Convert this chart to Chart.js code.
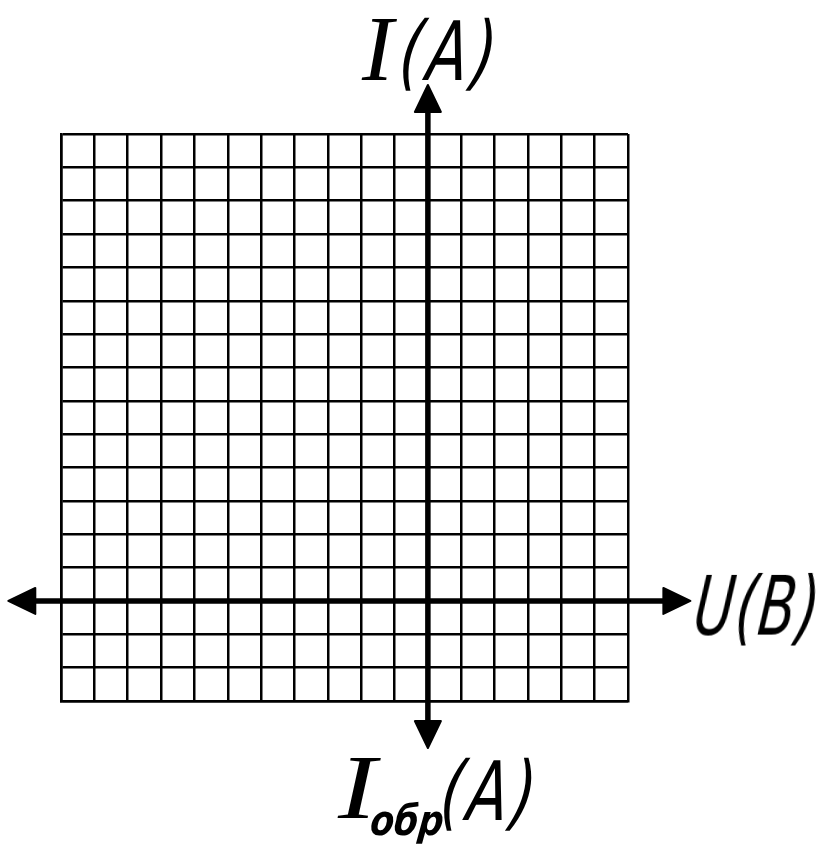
<!DOCTYPE html>
<html><head><meta charset="utf-8">
<script src="https://cdn.jsdelivr.net/npm/chart.js@4"></script>
<style>
html,body{margin:0;padding:0;background:#fff;}
#wrap{position:relative;width:825px;height:845px;overflow:hidden;}
canvas{position:absolute;left:0;top:0;}
.lbl{position:absolute;line-height:1;white-space:nowrap;color:#000;transform-origin:0 0;}
.serif{font-family:"Liberation Serif","DejaVu Serif",serif;font-style:italic;}
.gost{font-family:"DejaVu Sans Condensed","DejaVu Sans",sans-serif;font-style:italic;font-weight:300;}
.gostb{font-family:"DejaVu Sans Condensed","DejaVu Sans",sans-serif;font-style:italic;font-weight:bold;}
</style></head>
<body><div id="wrap"><canvas id="c" width="825" height="845"></canvas>
<div class="lbl serif" id="topMain" style="left:362px;top:1px;font-size:94px;"></div>
<div class="lbl gost" id="topUnit" style="left:405px;top:11px;font-size:82px;letter-spacing:6px;transform:scaleX(0.8) skewX(-8deg);"></div>
<div class="lbl gost" id="rightText" style="left:699px;top:566px;font-size:82px;letter-spacing:2px;transform:scaleX(0.74) skewX(-8deg);"></div>
<div class="lbl serif" id="botMain" style="left:338px;top:741px;font-size:92px;transform:scaleX(1.25);"></div>
<div class="lbl gostb" id="botSub" style="left:373px;top:800px;font-size:42px;transform:scaleX(0.92) skewX(-7deg);"></div>
<div class="lbl gost" id="botUnit" style="left:446px;top:751px;font-size:82px;letter-spacing:5px;transform:scaleX(0.8) skewX(-8deg);"></div>
</div>
<script>
// Axis ranges (grid cells)
const uRange = [-11, 6];        // U(B) horizontal grid extent
const iRange = [-3, 14];        // I(A) vertical grid extent
const gridStep = [1];
// Axis arrow extents (data units)
const uAxisExtent = [-12.58, 7.87];
const iAxisExtent = [-4.41, 15.47];
// Labels
const labelTopMain = ["I"];
const labelTopUnit = ["(A)"];
const labelRightText = ["U(B)"];
const labelBottomMain = ["I"];
const labelBottomSub = ["обр"];
const labelBottomUnit = ["(A)"];

document.getElementById('topMain').textContent = labelTopMain[0];
document.getElementById('topUnit').textContent = labelTopUnit[0];
document.getElementById('rightText').textContent = labelRightText[0];
document.getElementById('botMain').textContent = labelBottomMain[0];
document.getElementById('botSub').textContent = labelBottomSub[0];
document.getElementById('botUnit').textContent = labelBottomUnit[0];

function arrowHead(ctx, tx, ty, dx, dy, len, half) {
  const bx = tx - dx * len, by = ty - dy * len;
  const px = -dy, py = dx;
  ctx.beginPath();
  ctx.moveTo(tx, ty);
  ctx.lineTo(bx + px * half, by + py * half);
  ctx.lineTo(bx - px * half, by - py * half);
  ctx.closePath();
  ctx.fill();
  ctx.stroke();
}

const axesPlugin = {
  id: 'axesArrows',
  afterDatasetsDraw(chart) {
    const ctx = chart.ctx, xs = chart.scales.x, ys = chart.scales.y;
    const x0 = xs.getPixelForValue(0), y0 = ys.getPixelForValue(0);
    const xl = xs.getPixelForValue(uAxisExtent[0]), xr = xs.getPixelForValue(uAxisExtent[1]);
    const yb = ys.getPixelForValue(iAxisExtent[0]), yt = ys.getPixelForValue(iAxisExtent[1]);
    const L = 27, H = 13;
    ctx.save();
    ctx.strokeStyle = '#000';
    ctx.fillStyle = '#000';
    ctx.lineWidth = 5.5;
    ctx.beginPath();
    ctx.moveTo(xl + L - 2, y0); ctx.lineTo(xr - L + 2, y0);
    ctx.moveTo(x0, yt + L - 2); ctx.lineTo(x0, yb - L + 2);
    ctx.stroke();
    ctx.lineWidth = 2;
    ctx.lineJoin = 'round';
    arrowHead(ctx, xl, y0, -1, 0, L, H);
    arrowHead(ctx, xr, y0, 1, 0, L, H);
    arrowHead(ctx, x0, yt, 0, -1, L, H);
    arrowHead(ctx, x0, yb, 0, 1, L, H);
    ctx.restore();
  }
};

new Chart(document.getElementById('c'), {
  type: 'scatter',
  data: { datasets: [{ data: [], pointRadius: 0 }] },
  options: {
    responsive: false,
    animation: false,
    events: [],
    layout: { padding: { left: 61, right: 197, top: 134, bottom: 144 } },
    plugins: { legend: { display: false }, tooltip: { enabled: false } },
    scales: {
      x: {
        type: 'linear', min: uRange[0], max: uRange[1],
        ticks: { display: false, stepSize: gridStep[0] },
        grid: { color: '#000', lineWidth: 2.5, drawTicks: false, tickLength: 0 },
        border: { display: true, color: '#000', width: 2.5 }
      },
      y: {
        type: 'linear', min: iRange[0], max: iRange[1],
        ticks: { display: false, stepSize: gridStep[0] },
        grid: { color: '#000', lineWidth: 2.5, drawTicks: false, tickLength: 0 },
        border: { display: true, color: '#000', width: 2.5 }
      }
    }
  },
  plugins: [axesPlugin]
});
</script>
</body></html>
